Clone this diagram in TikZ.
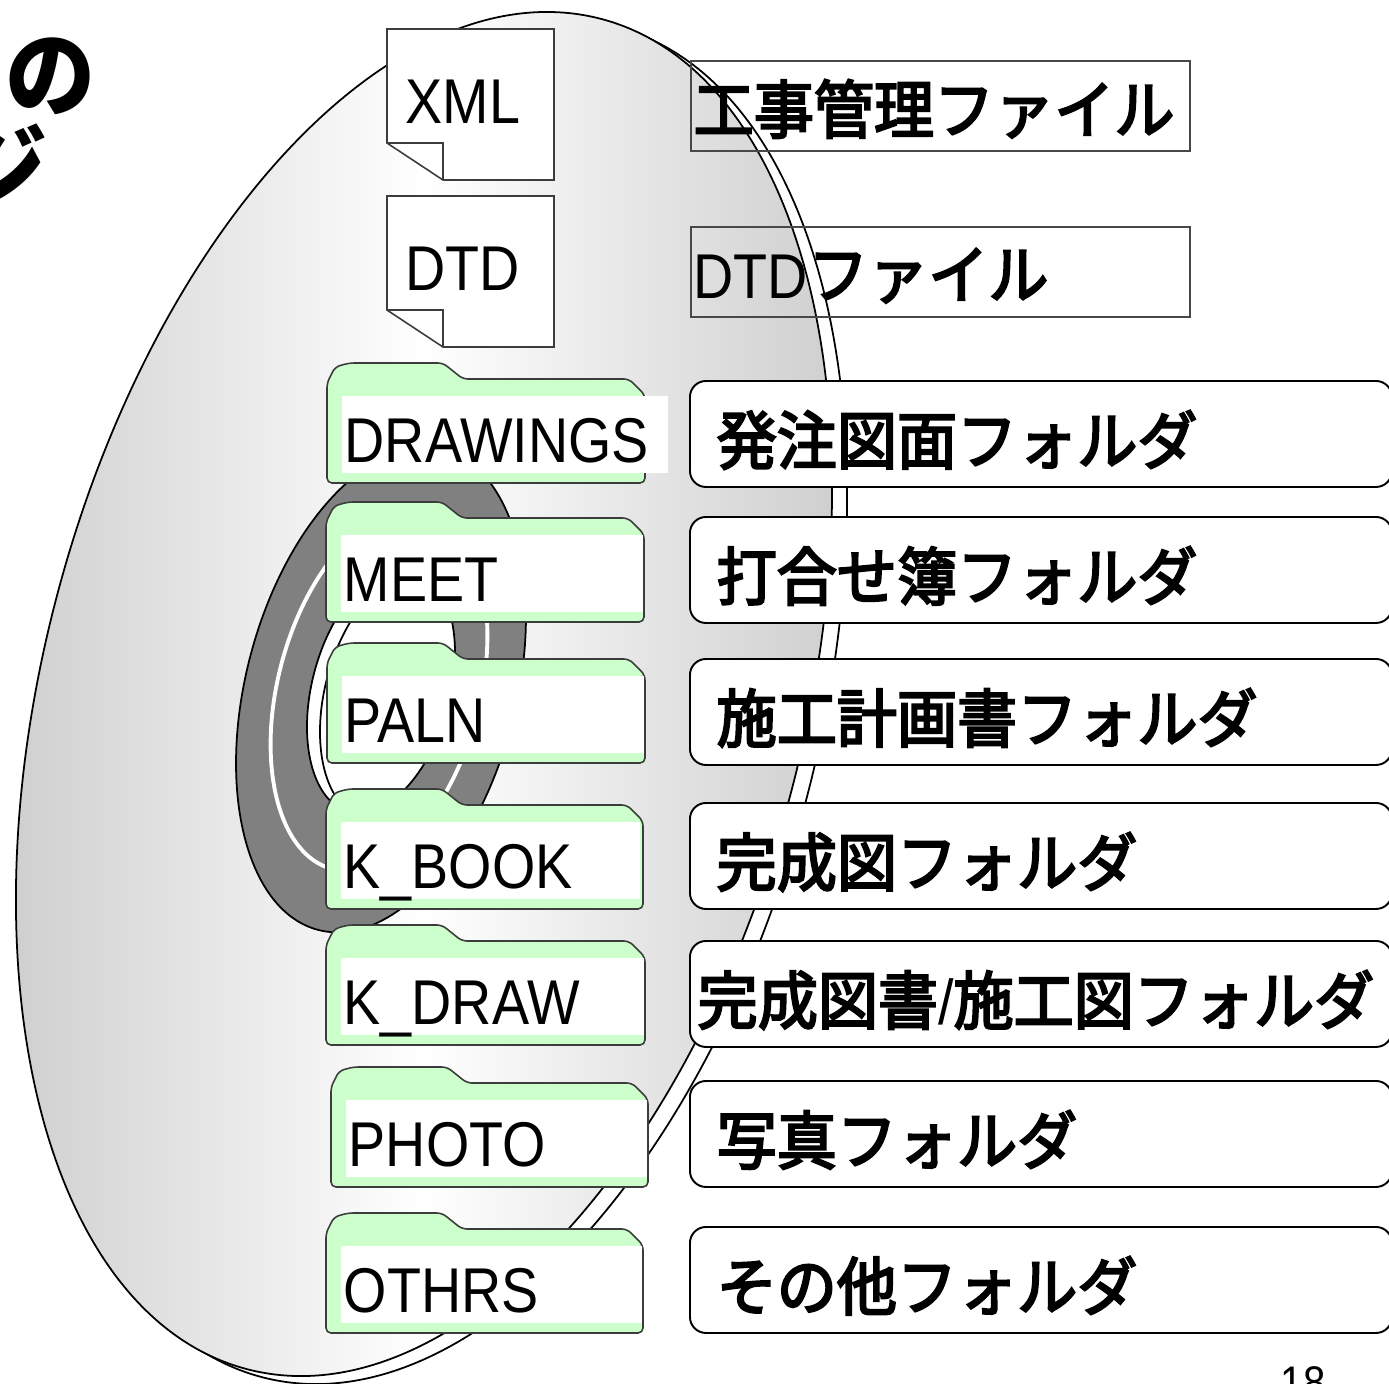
\documentclass[tikz,border=0pt]{standalone}
\usepackage{fontspec}
\setmainfont{Liberation Sans}[FakeStretch=0.88]
\newfontfamily\jpfont{Noto Sans CJK JP}[FakeStretch=0.95]
\newfontfamily\jplabelfont{Noto Sans CJK JP}[FakeStretch=0.95, FakeBold=3.5]
\definecolor{foldergreen}{HTML}{CCFFCC}
\definecolor{hubgray}{HTML}{808080}
\definecolor{discshade}{HTML}{C9C9C9}
\definecolor{edgeline}{HTML}{1A1A1A}
\newcommand{\labelfont}{\fontsize{18}{21}\selectfont}

% folder icon: name, left, right, bottom, right end of the white label, text
\newcommand{\folder}[6]{%
  \draw[draw=edgeline!85, line width=0.45pt, fill=foldergreen, rounded corners=0.5mm]
    (#2,#4) -- (#2,#4-100) -- (#2+8,#4-116) -- (#2+22,#4-120) -- (#2+116,#4-120)
    -- (#2+136,#4-104) -- (#3-16,#4-104) -- (#3,#4-88) -- (#3,#4) -- cycle;
  \fill[white] (#2+15,#4-87) rectangle (#5,#4-10);
  \node[anchor=base west, inner sep=0pt, font=\labelfont] (#1) at (#2+17,#4-21) {#6};
}
% file icon with the folded corner: name, top, text
\newcommand{\filepage}[3]{%
  \draw[draw=edgeline!85, line width=0.45pt, fill=white]
    (387,#2) -- (554,#2) -- (554,#2+151) -- (443,#2+151) -- (387,#2+114) -- cycle;
  \draw[draw=edgeline!85, line width=0.45pt] (387,#2+114) -- (443,#2+114) -- (443,#2+151);
  \node[anchor=base west, inner sep=0pt, font=\labelfont] (#1) at (405,#2+94) {#3};
}

\begin{document}
\begin{tikzpicture}[x=0.1mm, y=-0.1mm,
    disc/.style={x radius=69.8mm, y radius=38mm, rotate=75.3},
    hub/.style={x radius=24.8mm, y radius=13.5mm, rotate=75.3},
    track/.style={x radius=18.5mm, y radius=10.1mm, rotate=75.3},
    hole/.style={x radius=12.6mm, y radius=6.9mm, rotate=75.3},
    filebox/.style={draw=edgeline!80, line width=0.5pt, anchor=north west, inner sep=0pt,
      minimum width=49.9mm, minimum height=9mm},
    descbox/.style={draw=black, line width=0.55pt, fill=white, rounded corners=1.6mm,
      anchor=north west, inner sep=0pt, minimum width=70.2mm, minimum height=10.6mm},
    desctext/.style={anchor=base west, inner sep=0pt, font=\labelfont\jplabelfont},
    titletext/.style={anchor=base east, inner sep=0pt, font=\fontsize{27}{31}\selectfont\jpfont\bfseries}]

  \fill[white] (0,0) rectangle (1389,1383);
  \useasboundingbox (0,0) rectangle (1389,1383);

  % title, running off the left edge
  \node[titletext] (title1) at (96,109) {の};
  \node[titletext] (title2) at (48,202) {ジ};

  % the disc, its rim and the hub
  \draw[line width=0.5pt, fill=white] (439,702) ellipse [disc];
  \draw[line width=0.5pt, left color=discshade, right color=discshade, middle color=white] (424,694) ellipse [disc];
  \draw[line width=0.5pt, fill=hubgray] (381,690) ellipse [hub];
  \draw[white, line width=1.1pt] (379,690) ellipse [track];
  \draw[line width=0.5pt, fill=white] (381,690) ellipse [hole];
  \begin{scope}
    \clip (381,690) ellipse [hole];
    \draw[line width=0.5pt] (394,695) ellipse [hole];
  \end{scope}

  % files
  \filepage{xml}{29}{XML}
  \filepage{dtd}{196}{DTD}

  % folders
  \folder{drawings}{327}{645}{483}{668}{DRAWINGS}
  \folder{meet}{326}{644}{622}{643}{MEET}
  \folder{paln}{327}{645}{763}{644}{PALN}
  \folder{kbook}{326}{643}{909}{640}{K\_BOOK}
  \folder{kdraw}{326}{645}{1045}{644}{K\_DRAW}
  \folder{photo}{331}{648}{1187}{647}{PHOTO}
  \folder{othrs}{326}{643}{1333}{642}{OTHRS}

  % what each entry holds
  \node[filebox] (xmlbox) at (690,60) {};
  \node[desctext] (xmldesc) at (693,133) {工事管理ファイル};
  \node[filebox] (dtdbox) at (690,226) {};
  \node[desctext] (dtddesc) at (693,298) {{\normalfont DTD}ファイル};

  \node[descbox] (drawingsbox) at (689,380) {};
  \node[desctext] (drawingsdesc) at (716,464) {発注図面フォルダ};
  \node[descbox] (meetbox) at (689,516) {};
  \node[desctext] (meetdesc) at (716,600) {打合せ簿フォルダ};
  \node[descbox] (palnbox) at (689,658) {};
  \node[desctext] (palndesc) at (716,742) {施工計画書フォルダ};
  \node[descbox] (kbookbox) at (689,802) {};
  \node[desctext] (kbookdesc) at (716,886) {完成図フォルダ};
  \node[descbox] (kdrawbox) at (689,940) {};
  \node[desctext] (kdrawdesc) at (697,1024) {完成図書{\normalfont /}施工図フォルダ};
  \node[descbox] (photobox) at (689,1080) {};
  \node[desctext] (photodesc) at (716,1164) {写真フォルダ};
  \node[descbox] (othrsbox) at (689,1226) {};
  \node[desctext] (othrsdesc) at (716,1310) {その他フォルダ};

  \node[anchor=north west, inner sep=0pt, font=\fontsize{13}{15}\selectfont] (pageno) at (1280,1366) {18};
\end{tikzpicture}
\end{document}
